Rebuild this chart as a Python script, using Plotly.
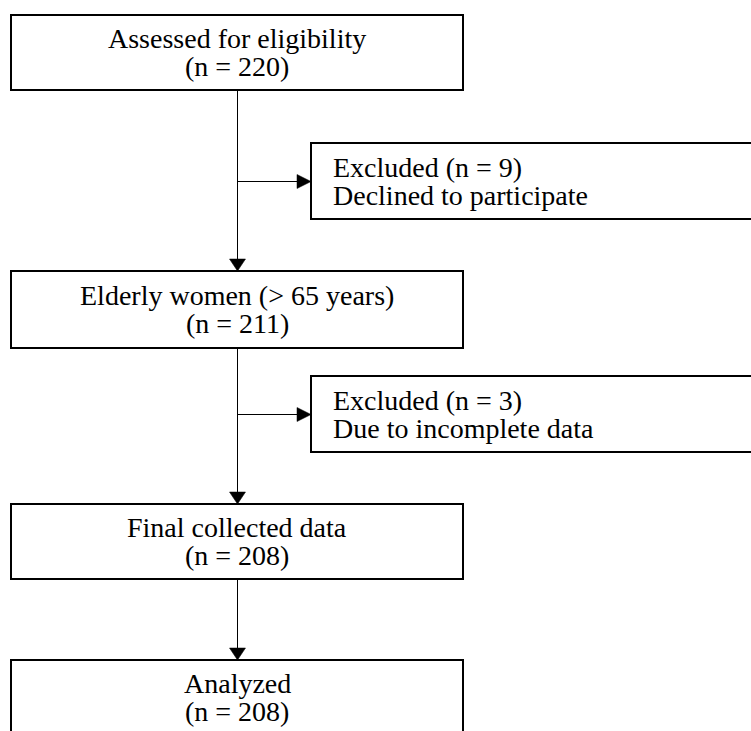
import plotly.graph_objects as go

# ---- content ----
stage_labels = ["Assessed for eligibility", "Elderly women (> 65 years)",
                "Final collected data", "Analyzed"]
stage_n = [220, 211, 208, 208]
excluded_n = [9, 3]
excluded_reasons = ["Declined to participate", "Due to incomplete data"]

# ---- layout geometry (pixels, y downward) ----
W, H = 751, 731
main_x0, main_x1 = 11, 463
main_y = [(15, 90), (271, 348), (504, 579), (660, 740)]
exc_x0, exc_x1 = 311, 760
exc_y = [(143, 219), (376, 452)]
line_gap = 28
FONT = dict(family="Liberation Serif, Times New Roman, serif", size=28, color="#000000")

fig = go.Figure()
shapes = []
annotations = []
cx = (main_x0 + main_x1) / 2

for (y0, y1), lab, n in zip(main_y, stage_labels, stage_n):
    shapes.append(dict(type="rect", x0=main_x0, x1=main_x1, y0=y0, y1=y1,
                       xref="x", yref="y", line=dict(color="black", width=2),
                       fillcolor="white", layer="above"))
    yc = (y0 + 75 / 2) if y1 > H else (y0 + y1) / 2
    for txt, yy in [(lab, yc - line_gap / 2), (f"(n = {n})", yc + line_gap / 2)]:
        annotations.append(dict(x=cx, y=yy, xref="x", yref="y", text=txt,
                                showarrow=False, xanchor="center", yanchor="middle",
                                font=FONT))

for (y0, y1), n, reason in zip(exc_y, excluded_n, excluded_reasons):
    shapes.append(dict(type="rect", x0=exc_x0, x1=exc_x1, y0=y0, y1=y1,
                       xref="x", yref="y", line=dict(color="black", width=2),
                       fillcolor="white", layer="above"))
    yc = (y0 + y1) / 2
    for txt, yy in [(f"Excluded (n = {n})", yc - line_gap / 2), (reason, yc + line_gap / 2)]:
        annotations.append(dict(x=exc_x0 + 20, y=yy, xref="x", yref="y", text=txt,
                                showarrow=False, xanchor="left", yanchor="middle",
                                font=FONT))

lx = 237.5
ah_w, ah_l = 8, 12
# vertical connectors with down arrowheads
for i in range(len(main_y) - 1):
    ya = main_y[i][1]
    yb = main_y[i + 1][0]
    shapes.append(dict(type="line", x0=lx, x1=lx, y0=ya, y1=yb - ah_l + 1, xref="x", yref="y",
                       line=dict(color="black", width=1)))
    shapes.append(dict(type="path", xref="x", yref="y",
                       path=f"M {lx - ah_w} {yb - ah_l} L {lx + ah_w} {yb - ah_l} L {lx} {yb} Z",
                       fillcolor="black", line=dict(color="black", width=0.5)))
# horizontal connectors with right arrowheads
for (y0, y1) in exc_y:
    yh = (y0 + y1) / 2 + 0.5
    shapes.append(dict(type="line", x0=lx, x1=exc_x0 - ah_l - 1, y0=yh, y1=yh, xref="x", yref="y",
                       line=dict(color="black", width=1)))
    shapes.append(dict(type="path", xref="x", yref="y",
                       path=f"M {exc_x0 - ah_l - 2} {yh - 7} L {exc_x0 - ah_l - 2} {yh + 7} L {exc_x0} {yh} Z",
                       fillcolor="black", line=dict(color="black", width=0.5)))

fig.update_layout(
    width=W, height=H,
    margin=dict(l=0, r=0, t=0, b=0),
    paper_bgcolor="white", plot_bgcolor="white",
    xaxis=dict(range=[0, W], visible=False, fixedrange=True),
    yaxis=dict(range=[H, 0], visible=False, fixedrange=True),
    shapes=shapes, annotations=annotations, showlegend=False,
)
fig.write_html("out.html", config={"displayModeBar": False},
               post_script="document.body.style.margin='0';document.body.style.overflow='hidden';")
